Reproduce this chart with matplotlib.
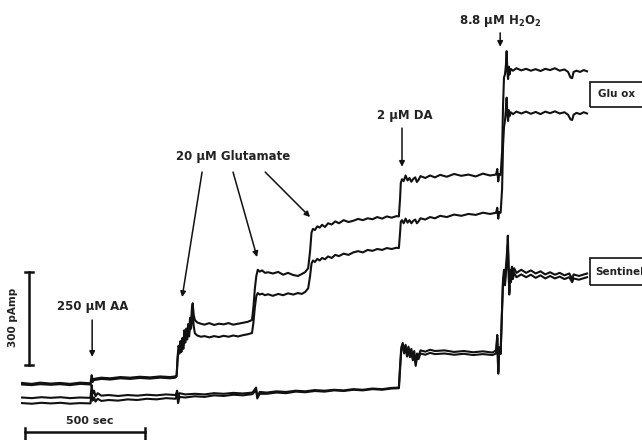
import matplotlib.pyplot as plt
from matplotlib.patches import Rectangle

plt.rcParams['font.family'] = ['DejaVu Sans']
plt.rcParams['mathtext.default'] = 'bf'

# amperometric traces, (time in s, current in pA)
glu_ox_a = [(0,55),(40,52),(75,56),(120,53),(158,55),(200,52),(242,56),(285,54),(290,80),(294,60),(298,68),
            (330,72),(367,70),(410,74),(450,72),(490,75),(533,73),(575,76),(617,74),(638,76),(644,80),(648,140),
            (652,175),(656,160),(660,190),(664,165),(668,200),(672,175),(676,225),(680,200),(684,230),(688,210),
            (692,245),(696,220),(700,265),(704,250),(708,300),(711,312),(715,275),(720,258),(730,250),(745,246),
            (760,243),(780,248),(800,242),(820,246),(840,244),(860,248),(880,243),(900,246),(920,249),(940,252),
            (958,258),(964,300),(970,360),(976,400),(982,420),(990,414),(1000,418),(1012,410),(1025,412),(1045,408),
            (1067,413),(1088,404),(1108,410),(1130,403),(1150,400),(1165,406),(1179,412),(1192,425),(1200,480),
            (1206,540),(1212,552),(1220,548),(1230,560),(1240,556),(1250,565),(1262,558),(1275,570),(1290,566),
            (1305,576),(1320,570),(1340,580),(1360,574),(1380,578),(1400,584),(1420,580),(1440,586),(1460,583),
            (1480,590),(1500,585),(1520,592),(1540,588),(1560,593),(1570,592),(1575,650),(1578,700),(1583,712),
            (1590,706),(1598,724),(1606,708),(1614,716),(1622,704),(1630,713),(1638,718),(1645,703),(1652,710),
            (1660,722),(1680,716),(1700,724),(1720,718),(1742,726),(1770,720),(1800,729),(1830,723),(1860,727),
            (1890,721),(1920,730),(1950,724),(1975,727),(1980,745),(1984,705),(1988,728),(1994,726),(2000,800),
            (2004,950),(2008,1040),(2012,1050),(2016,1080),(2019,1125),(2022,1060),(2025,1035),(2028,1075),
            (2031,1050),(2036,1068),(2045,1062),(2060,1070),(2080,1063),(2100,1068),(2120,1062),(2140,1067),
            (2160,1061),(2180,1068),(2200,1064),(2220,1070),(2240,1062),(2260,1066),(2275,1058),(2285,1040),
            (2292,1038),(2298,1058),(2310,1062),(2325,1058),(2340,1064),(2354,1060)]

glu_ox_b = [(0,50),(40,48),(75,51),(120,49),(158,51),(200,48),(242,52),(285,50),(290,66),(294,58),(298,64),
            (330,68),(367,66),(410,70),(450,68),(490,71),(533,69),(575,72),(617,70),(638,72),(644,76),(648,130),
            (652,160),(656,150),(660,175),(664,155),(668,185),(672,165),(676,205),(680,185),(684,210),(688,195),
            (692,225),(696,205),(700,240),(704,230),(708,270),(711,282),(715,240),(720,215),(730,208),(745,204),
            (760,206),(780,202),(800,206),(820,203),(840,207),(860,204),(880,208),(900,205),(920,209),(940,212),
            (958,216),(964,250),(970,300),(976,335),(982,345),(990,340),(1000,343),(1012,338),(1025,341),(1045,336),
            (1067,342),(1088,338),(1108,344),(1130,340),(1150,345),(1165,342),(1179,348),(1192,360),(1200,400),
            (1206,440),(1212,450),(1220,445),(1230,455),(1240,450),(1250,458),(1262,454),(1275,463),(1290,458),
            (1305,468),(1320,464),(1340,472),(1360,468),(1380,476),(1400,480),(1420,476),(1440,484),(1460,481),
            (1480,487),(1500,484),(1520,490),(1540,487),(1560,491),(1570,490),(1575,540),(1578,575),(1583,580),
            (1590,570),(1598,585),(1606,572),(1614,580),(1622,570),(1630,578),(1638,582),(1645,570),(1652,576),
            (1660,586),(1680,582),(1700,590),(1720,586),(1742,594),(1770,590),(1800,598),(1830,594),(1860,600),
            (1890,597),(1920,604),(1950,600),(1975,604),(1980,620),(1984,585),(1988,606),(1994,604),(2000,680),
            (2004,820),(2008,880),(2012,900),(2016,940),(2019,975),(2022,920),(2025,900),(2028,935),(2031,915),
            (2036,928),(2045,922),(2060,930),(2080,924),(2100,930),(2120,923),(2140,929),(2160,922),(2180,930),
            (2200,925),(2220,931),(2240,924),(2260,928),(2275,920),(2285,905),(2292,903),(2298,920),(2310,926),
            (2325,922),(2340,928),(2354,924)]

sentinel_a = [(0,8),(40,6),(80,9),(120,7),(160,9),(200,6),(240,8),(285,7),(290,48),(294,20),(300,30),(306,12),
              (315,22),(330,14),(360,16),(400,13),(440,16),(480,14),(520,17),(560,15),(600,18),(640,16),(646,30),
              (650,5),(656,22),(680,18),(720,20),(760,18),(800,22),(840,20),(880,23),(920,21),(960,24),(975,40),
              (980,10),(990,26),(1020,24),(1060,28),(1100,26),(1140,30),(1180,28),(1220,32),(1260,30),(1300,33),
              (1340,31),(1380,35),(1420,33),(1460,37),(1500,35),(1540,39),(1570,40),(1575,110),(1580,170),
              (1586,184),(1592,160),(1598,178),(1604,150),(1610,172),(1616,148),(1622,165),(1628,140),(1634,158),
              (1640,118),(1646,150),(1652,140),(1660,160),(1680,156),(1700,162),(1720,158),(1760,160),(1800,155),
              (1840,158),(1880,154),(1920,157),(1960,153),(1975,160),(1980,210),(1984,90),(1988,170),(1994,155),
              (2000,300),(2004,390),(2008,420),(2012,380),(2016,430),(2020,470),(2024,530),(2027,440),(2030,350),
              (2033,420),(2037,395),(2041,430),(2045,405),(2050,425),(2060,410),(2080,420),(2100,410),(2120,418),
              (2140,408),(2160,415),(2180,405),(2200,412),(2220,404),(2240,410),(2260,402),(2280,408),(2292,390),
              (2298,405),(2320,400),(2354,408)]

sentinel_b = [(0,-10),(40,-12),(80,-9),(120,-11),(160,-9),(200,-12),(240,-10),(285,-11),(290,25),(294,-2),
              (300,8),(306,-5),(315,4),(330,-3),(360,0),(400,-2),(440,2),(480,0),(520,4),(560,2),(600,6),(640,4),
              (646,22),(650,-10),(656,10),(680,8),(720,12),(760,10),(800,15),(840,13),(880,17),(920,15),(960,19),
              (975,32),(980,5),(990,20),(1020,20),(1060,24),(1100,22),(1140,27),(1180,25),(1220,29),(1260,27),
              (1300,31),(1340,29),(1380,33),(1420,31),(1460,35),(1500,33),(1540,37),(1570,38),(1575,100),(1580,160),
              (1586,175),(1592,150),(1598,168),(1604,140),(1610,160),(1616,138),(1622,152),(1628,128),(1634,146),
              (1640,110),(1646,140),(1652,132),(1660,150),(1680,146),(1700,152),(1720,148),(1760,150),(1800,146),
              (1840,149),(1880,145),(1920,148),(1960,145),(1975,150),(1980,200),(1984,85),(1988,160),(1994,148),
              (2000,290),(2004,380),(2008,400),(2012,370),(2016,410),(2020,440),(2024,500),(2027,420),(2030,340),
              (2033,405),(2037,380),(2041,415),(2045,390),(2050,410),(2060,396),(2080,405),(2100,396),(2120,404),
              (2140,394),(2160,402),(2180,392),(2200,400),(2220,392),(2240,398),(2260,390),(2280,396),(2292,380),
              (2298,392),(2320,388),(2354,396)]

# labels: text, text position, arrow tips
aa_label = '250 µM AA'
glu_label = '20 µM Glutamate'
da_label = '2 µM DA'
h2o2_label = r'8.8 µM H$_2$O$_2$'
glu_arrow_tips = [(667, 332), (979, 461), (1200, 590)]

scale_t = 500   # sec
scale_i = 300   # pA

fig = plt.figure(figsize=(6.42, 4.40), dpi=100)
ax = fig.add_axes([0, 0, 1, 1])
ax.set_xlim(-92, 2583)
ax.set_ylim(-129, 1290)
ax.axis('off')

for trace in [glu_ox_a, glu_ox_b, sentinel_a, sentinel_b]:
    t = [p[0] for p in trace]
    i = [p[1] for p in trace]
    ax.plot(t, i, color='#111111', lw=1.5, solid_joinstyle='round')

txt = dict(fontsize=8.5, fontweight='bold', color='#222222', ha='center', va='center')
arr = dict(arrowstyle='-|>', color='#111111', lw=1.1, mutation_scale=8, shrinkA=0, shrinkB=0)

ax.text(296, 302, aa_label, **txt)
ax.annotate('', xy=(292, 139), xytext=(292, 258), arrowprops=arr)

ax.text(879, 786, glu_label, **txt)
for (tx, ty), start in zip(glu_arrow_tips, [750, 879, 1013]):
    ax.annotate('', xy=(tx, ty), xytext=(start, 735), arrowprops=arr)

ax.text(1596, 918, da_label, **txt)
ax.annotate('', xy=(1583, 752), xytext=(1583, 877), arrowprops=arr)

ax.text(1992, 1222, h2o2_label, **txt)
ax.annotate('', xy=(1992, 1139), xytext=(1992, 1184), arrowprops=arr)

# label boxes on the right
ax.add_patch(Rectangle((2367, 945), 300, 81, fill=False, lw=1.2, ec='#111111'))
ax.text(2398, 986, 'Glu ox', fontsize=7.5, fontweight='bold', color='#222222', va='center')
ax.add_patch(Rectangle((2367, 371), 300, 87, fill=False, lw=1.2, ec='#111111'))
ax.text(2390, 414, 'Sentinel', fontsize=7.5, fontweight='bold', color='#222222', va='center')

# scale bars
ax.plot([29, 29], [113, 113 + scale_i], color='#111111', lw=1.8)
ax.plot([12, 46], [113, 113], color='#111111', lw=1.8)
ax.plot([12, 46], [113 + scale_i, 113 + scale_i], color='#111111', lw=1.8)
ax.text(-38, 265, '300 pAmp', fontsize=7.5, fontweight='bold', color='#222222',
        rotation=90, ha='center', va='center')

ax.plot([12, 12 + scale_t], [-103, -103], color='#111111', lw=1.8)
ax.plot([12, 12], [-90, -129], color='#111111', lw=1.8)
ax.plot([12 + scale_t, 12 + scale_t], [-90, -129], color='#111111', lw=1.8)
ax.text(283, -68, '500 sec', fontsize=8, fontweight='bold', color='#222222', ha='center', va='center')

plt.savefig('out.png', dpi=100)
